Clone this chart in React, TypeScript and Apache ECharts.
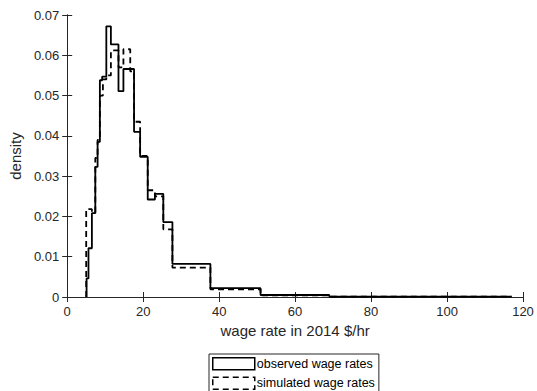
import React, { useEffect, useRef } from "react";
import * as echarts from "echarts";

// bin edges (wage, 2014 $/hr) and densities
const obsEdges = [5.1, 5.6, 6.5, 7.4, 8.0, 8.6, 9.2, 10.3, 11.5, 13.5, 14.8, 17.6, 19.2, 21.2, 23.1, 25.3, 27.7, 37.7, 50.9, 69, 117];
const obsDensity = [0.0046, 0.0121, 0.0208, 0.0323, 0.0385, 0.0538, 0.0547, 0.0672, 0.0627, 0.0511, 0.0566, 0.041, 0.0348, 0.0242, 0.0256, 0.0186, 0.0082, 0.0022, 0.0005, 0.0001];
const simEdges = [5.0, 6.5, 7.4, 8.0, 8.6, 9.4, 10.3, 11.5, 13.5, 14.8, 16.6, 17.6, 19.2, 21.2, 23.1, 25.3, 27.7, 37.7, 50.9, 69, 117];
const simDensity = [0.0218, 0.021, 0.0345, 0.039, 0.05, 0.054, 0.055, 0.0612, 0.057, 0.0615, 0.056, 0.0435, 0.035, 0.0265, 0.025, 0.0168, 0.0073, 0.0019, 0.0004, 0.0001];

const xTicks = { min: 0, max: 120, interval: 20 };
const yTicks = { min: 0, max: 0.07, interval: 0.01 };
const seriesNames = ["observed wage rates", "simulated wage rates"];

function outline(edges: number[], dens: number[]) {
  const pts: number[][] = [[edges[0], 0]];
  for (let i = 0; i < dens.length; i++) pts.push([edges[i + 1], dens[i]]);
  pts.push([edges[edges.length - 1], 0]);
  return pts;
}

const AX = "#262626";
const FONT = "'Liberation Sans', Arial, sans-serif";
const CHART_H = 430; // drawn taller; the page window clips it at 391 like the original

export default function App() {
  const ref = useRef<HTMLDivElement>(null);
  useEffect(() => {
    if (!ref.current) return;
    const chart = echarts.init(ref.current, undefined, { renderer: "svg" });
    const axisCommon = {
      axisLine: { show: true, lineStyle: { color: AX, width: 1 } },
      axisTick: { show: true, inside: true, length: 5, lineStyle: { color: AX } },
      splitLine: { show: false },
    };
    chart.setOption({
      animation: false,
      backgroundColor: "#fff",
      textStyle: { fontFamily: FONT },
      grid: { left: 65, right: 14, top: 15, bottom: CHART_H - 297, containLabel: false },
      xAxis: [
        {
          type: "value", ...xTicks, ...axisCommon,
          name: "wage rate in 2014 $/hr", nameLocation: "middle", nameGap: 12,
          nameTextStyle: { color: AX, fontSize: 15, fontFamily: FONT, verticalAlign: "top" },
          axisLabel: { color: AX, fontSize: 13, fontFamily: FONT, margin: 8 },
        },
        { type: "value", position: "top", ...xTicks, ...axisCommon, axisLabel: { show: false } },
      ],
      yAxis: [
        {
          type: "value", ...yTicks, ...axisCommon,
          name: "density", nameLocation: "middle", nameGap: 40,
          nameTextStyle: { color: AX, fontSize: 15, fontFamily: FONT },
          axisLabel: { color: AX, fontSize: 13, fontFamily: FONT, margin: 8 },
        },
        { type: "value", position: "right", ...yTicks, ...axisCommon, axisLabel: { show: false } },
      ],
      legend: {
        orient: "vertical",
        left: 209,
        top: 354,
        icon: "rect",
        itemWidth: 42,
        itemHeight: 12,
        itemGap: 6,
        padding: [3, 4, 4, 3],
        borderColor: AX,
        borderWidth: 1,
        textStyle: { color: "#000", fontSize: 12.5, fontFamily: FONT, padding: [0, 0, 0, -3] },
        data: [
          { name: seriesNames[0], itemStyle: { color: "#fff", borderColor: "#000", borderWidth: 1.5, borderType: "solid" } },
          { name: seriesNames[1], itemStyle: { color: "#fff", borderColor: "#000", borderWidth: 1.5, borderType: [6, 4] } },
        ],
      },
      series: [
        {
          name: seriesNames[0], type: "line", step: "start", showSymbol: false, symbol: "none",
          data: outline(obsEdges, obsDensity),
          lineStyle: { color: "#000", width: 1.8, type: "solid" },
          itemStyle: { color: "#000" },
          z: 3,
        },
        {
          name: seriesNames[1], type: "line", step: "start", showSymbol: false, symbol: "none",
          data: outline(simEdges, simDensity),
          lineStyle: { color: "#000", width: 1.8, type: [6, 4] },
          itemStyle: { color: "#000" },
          z: 2,
        },
      ],
    });
    return () => chart.dispose();
  }, []);
  return (
    <div style={{ position: "absolute", left: 0, top: 0, width: 537, height: 391, overflow: "hidden" }}>
      <div ref={ref} style={{ width: 537, height: CHART_H }} />
    </div>
  );
}
